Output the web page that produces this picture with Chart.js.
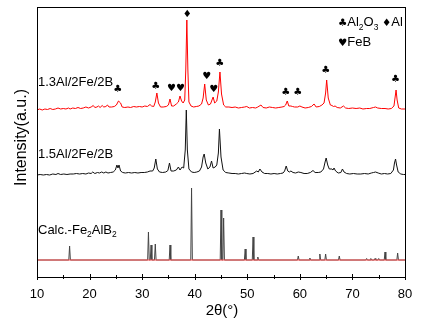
<!DOCTYPE html>
<html>
<head>
<meta charset="utf-8">
<script src="https://cdn.jsdelivr.net/npm/chart.js@4.4.0/dist/chart.umd.min.js"></script>
<style>
  html, body { margin: 0; padding: 0; background: #fff; }
  #wrap { width: 421px; height: 324px; }
</style>
</head>
<body>
<div id="wrap"><canvas id="xrd" width="421" height="324"></canvas></div>
<script>
// --- Data (2theta in degrees, intensity in a.u. above each pattern's baseline) ---
const xTicks = [10, 20, 30, 40, 50, 60, 70, 80];
const xMinorTicks = [15, 25, 35, 45, 55, 65, 75];

// 1.3Al/2Fe/2B (red)
const s13Theta = [10.0, 10.5, 11, 11.5, 12, 12.5, 13, 13.5, 14, 14.5, 15, 15.5, 16, 16.3, 16.8, 17.3, 17.8, 18.3, 18.8, 19.3,
  19.8, 20.3, 20.7, 21.0, 21.4, 21.7, 22.0, 22.4, 22.7, 23.1, 23.4, 23.7, 24.2, 24.7, 25.1, 25.5, 25.9, 26.2, 26.7, 27.3,
  27.8, 28.4, 28.9, 29.5, 30.0, 30.5, 31.0, 31.5, 31.8, 32.2, 32.5, 32.8, 33.1, 33.5, 34.0, 34.6, 35.0, 35.3, 35.6, 36.0,
  36.5, 36.9, 37.2, 37.5, 37.8, 38.1, 38.3, 38.5, 38.7, 38.9, 39.3, 39.8, 40.3, 40.8, 41.3, 41.6, 41.9, 42.2, 42.6, 43.0,
  43.5, 43.8, 44.2, 44.5, 44.8, 45.1, 45.5, 45.9, 46.5, 47.1, 47.7, 48.3, 48.9, 49.5, 49.9, 50.4, 51.0, 51.6, 52.0, 52.6,
  53.0, 53.6, 54.2, 54.8, 55.4, 56.0, 56.6, 57.0, 57.3, 57.6, 57.9, 58.3, 58.6, 59.0, 59.6, 60.0, 60.4, 61.0, 61.6, 62.2,
  62.7, 63.1, 63.7, 64.2, 64.6, 64.9, 65.1, 65.4, 65.8, 66.1, 66.4, 66.7, 67.1, 67.7, 68.3, 68.7, 69.3, 70.0, 70.7, 71.4,
  72.0, 72.7, 73.3, 74.0, 74.4, 74.8, 75.5, 76.2, 76.8, 77.4, 77.9, 78.1, 78.3, 78.5, 78.8, 79.3, 80.0];
const s13Int = [0, 1, 0, 1, 0.5, 1.5, 0.5, 1, 2, 1, 1.5, 1, 2, 1, 2, 1.5, 2.5, 1.5, 2, 3,
  2, 3, 4.5, 2.5, 3, 4, 2.5, 4.5, 3, 3.5, 5, 3, 3, 3.5, 5, 9, 7, 3, 2.5, 3,
  2.5, 3.5, 3, 3.5, 3, 4, 3.5, 5.5, 4, 3.5, 8, 17, 7, 3, 3, 3.5, 5, 11, 4, 4,
  6, 8, 14, 9, 7, 10, 40, 90, 40, 8, 4, 3, 3.5, 4, 6, 12, 26, 10, 5, 6,
  13, 7, 9, 18, 38, 16, 5, 3, 3, 2.5, 3, 2, 2.5, 3, 3.5, 2, 2.5, 2, 3, 5,
  2.5, 2, 3, 2.5, 2, 2.5, 3, 3.5, 5, 9, 4, 4, 3.5, 3, 3, 4, 3, 2, 2.5, 3.5,
  6, 3, 3.5, 5, 7, 17, 30, 12, 5, 4.5, 3.5, 4, 2.5, 2, 4, 2, 1.5, 2, 1.5, 2,
  1, 1.5, 1.5, 2.5, 3, 2, 1.5, 1.5, 1, 1.5, 4, 12, 20, 10, 2, 1, 1];

// 1.5Al/2Fe/2B (black)
const s15Theta = [10.0, 10.6, 11.2, 11.8, 12.4, 13.0, 13.6, 14.0, 14.5, 15.1, 15.7, 16.3, 16.9, 17.5, 18.1, 18.7, 19.3, 19.8, 20.3, 20.6,
  21.0, 21.5, 21.9, 22.3, 22.7, 23.1, 23.5, 24.0, 24.5, 24.9, 25.2, 25.4, 25.6, 25.9, 26.3, 26.8, 27.4, 28.0, 28.6, 29.2,
  29.8, 30.4, 31.0, 31.5, 32.0, 32.3, 32.6, 32.9, 33.3, 33.9, 34.5, 34.9, 35.2, 35.5, 36.0, 36.5, 36.9, 37.2, 37.6, 37.9,
  38.2, 38.4, 38.6, 38.9, 39.4, 39.9, 40.4, 40.9, 41.3, 41.6, 41.8, 42.1, 42.5, 42.9, 43.2, 43.5, 43.9, 44.2, 44.5, 44.7,
  45.0, 45.4, 45.9, 46.5, 47.1, 47.7, 48.3, 48.9, 49.5, 49.9, 50.5, 51.1, 51.8, 52.1, 52.4, 52.8, 53.3, 53.9, 54.5, 55.1,
  55.7, 56.3, 56.8, 57.1, 57.4, 57.7, 58.0, 58.3, 58.7, 59.2, 59.7, 60.2, 60.8, 61.4, 62.0, 62.5, 62.9, 63.5, 64.0, 64.5,
  64.8, 65.0, 65.3, 65.6, 66.1, 66.3, 66.5, 66.8, 67.3, 67.8, 68.1, 68.4, 68.9, 69.5, 70.2, 70.9, 71.6, 72.3, 73.0, 73.6,
  74.0, 74.4, 74.9, 75.5, 76.1, 76.7, 77.3, 77.8, 78.0, 78.2, 78.4, 78.7, 79.2, 79.7, 80.0];
const s15Int = [0, 0.5, 0, 0.5, 0, 1, 0.5, 1.5, 0.5, 1, 0.5, 1, 1, 1.5, 1, 1.5, 1, 2, 1.5, 3,
  1.5, 2.5, 2, 3, 2, 3, 2, 2.5, 3, 5, 10, 7, 10, 4, 2.5, 2, 2.5, 2, 2.5, 2,
  2.5, 2.5, 3, 4, 4, 7, 16, 6, 3, 2.5, 3, 4.5, 12, 4, 4, 5, 8, 5, 8, 7,
  25, 65, 25, 6, 3, 2.5, 3, 4, 8, 18, 21, 12, 6, 8, 14, 7, 8, 10, 22, 46,
  18, 5, 2.5, 2, 1.5, 1.5, 1, 1.5, 2, 1.5, 1, 1.5, 4, 3, 6, 3, 1.5, 1.5, 1, 1.5,
  1, 1.5, 2, 4, 9, 4, 3, 4, 2.5, 2, 3, 2.5, 1.5, 1.5, 2.5, 4.5, 2.5, 2.5, 3, 6,
  13, 17, 10, 6, 6, 5, 7, 4, 2, 2.5, 6, 3, 1.5, 1, 1.5, 1, 1, 1.5, 1, 2,
  2.5, 3, 2, 1, 1.5, 1, 1.5, 5, 12, 16, 10, 3, 1, 0.5, 0.5];

// Calculated Fe2AlB2 reflections
const calcTheta = [16.2, 31.2, 31.7, 32.5, 35.3, 39.4, 45.0, 45.5, 49.6, 51.1, 52.0, 59.7, 61.9, 63.8, 64.9, 67.5, 72.7, 73.5, 74.3, 75.0, 76.2, 78.6];
const calcInt = [14, 28, 15, 16, 15, 72, 50, 42, 11, 23, 3, 4, 2, 6, 6, 4, 1.5, 1.5, 1.5, 1.5, 8, 7];

// vertical offsets of the stacked patterns
const offsets = { s13: 167, s15: 102, calc: 17 };

// phase markers above peaks
const markTheta = [25.35, 32.6, 35.6, 37.3, 38.6, 42.3, 43.6, 44.75, 57.3, 59.6, 64.9, 78.2];
const markY = [188, 191, 189, 189, 263, 201, 188, 214, 185, 185, 207, 198];
const markSym = ['♣', '♣', '♥', '♥', '♦', '♥', '♥', '♣', '♣', '♣', '♣', '♣'];

// --- Build series ---
function toPoints(xs, ys, off) {
    return xs.map((x, i) => ({ x: x, y: ys[i] + off }));
}

const calcPts = [{ x: 10, y: offsets.calc }];
calcTheta.forEach((t, i) => {
    calcPts.push({ x: t - 0.15, y: offsets.calc });
    calcPts.push({ x: t, y: offsets.calc + calcInt[i] });
    calcPts.push({ x: t + 0.15, y: offsets.calc });
});
calcPts.push({ x: 80, y: offsets.calc });

// --- Text helper with subscripts ---
function drawRich(ctx, parts, x, y, size) {
    parts.forEach(p => {
        const txt = p[0], kind = p[1];
        if (kind === 'sub') {
            ctx.font = (size * 0.65) + 'px "Liberation Sans", Arial, sans-serif';
            ctx.fillText(txt, x, y + size * 0.28);
        } else if (kind === 'sym') {
            ctx.font = (size * 0.8) + 'px "DejaVu Sans", sans-serif';
            ctx.fillText(txt, x, y);
        } else {
            ctx.font = size + 'px "Liberation Sans", Arial, sans-serif';
            ctx.fillText(txt, x, y);
        }
        x += ctx.measureText(txt).width;
    });
}

// --- Frame, ticks, labels ---
const decorPlugin = {
    id: 'decor',
    afterDatasetsDraw(chart) {
        const ctx = chart.ctx;
        const a = chart.chartArea;
        const xs = chart.scales.x, ys = chart.scales.y;
        ctx.save();
        ctx.strokeStyle = '#000';
        ctx.lineWidth = 1;
        ctx.strokeRect(a.left + 0.5, a.top + 0.5, a.right - a.left, a.bottom - a.top);

        ctx.beginPath();
        xTicks.forEach(t => {
            const px = Math.round(xs.getPixelForValue(t)) + 0.5;
            ctx.moveTo(px, a.bottom - 3); ctx.lineTo(px, a.bottom + 3);
        });
        xMinorTicks.forEach(t => {
            const px = Math.round(xs.getPixelForValue(t)) + 0.5;
            ctx.moveTo(px, a.bottom - 2); ctx.lineTo(px, a.bottom + 2);
        });
        ctx.stroke();

        ctx.fillStyle = '#000';
        ctx.textBaseline = 'alphabetic';
        ctx.textAlign = 'center';
        ctx.font = '13px "Liberation Sans", Arial, sans-serif';
        xTicks.forEach(t => ctx.fillText(String(t), xs.getPixelForValue(t), 297.5));

        ctx.font = '15px "Liberation Sans", Arial, sans-serif';
        ctx.fillText('2θ(°)', (a.left + a.right) / 2 + 1, 315);

        ctx.save();
        ctx.translate(26, 137.5);
        ctx.rotate(-Math.PI / 2);
        ctx.font = '16px "Liberation Sans", Arial, sans-serif';
        ctx.fillText('Intensity(a.u.)', 0, 0);
        ctx.restore();

        // phase markers
        ctx.font = '10px "DejaVu Sans", sans-serif';
        ctx.textBaseline = 'middle';
        markTheta.forEach((t, i) => {
            ctx.fillText(markSym[i], xs.getPixelForValue(t), ys.getPixelForValue(markY[i]));
        });

        // sample labels and legend
        ctx.textAlign = 'left';
        ctx.textBaseline = 'alphabetic';
        drawRich(ctx, [['1.3Al/2Fe/2B']], 38, 86, 13);
        drawRich(ctx, [['1.5Al/2Fe/2B']], 38, 157.5, 13);
        drawRich(ctx, [['Calc.-Fe'], ['2', 'sub'], ['AlB'], ['2', 'sub']], 38, 233.5, 13);
        drawRich(ctx, [['♣', 'sym'], ['Al'], ['2', 'sub'], ['O'], ['3', 'sub'], [' '], ['♦', 'sym'], ['Al']], 338, 26.3, 13);
        drawRich(ctx, [['♥', 'sym'], ['FeB']], 338, 46.3, 13);
        ctx.restore();
    }
};

new Chart(document.getElementById('xrd'), {
    type: 'line',
    data: {
        datasets: [
            { label: '1.3Al/2Fe/2B', data: toPoints(s13Theta, s13Int, offsets.s13), borderColor: '#ff0000' },
            { label: '1.5Al/2Fe/2B', data: toPoints(s15Theta, s15Int, offsets.s15), borderColor: '#111111' },
            { label: 'Calc baseline', data: [{ x: 10, y: offsets.calc }, { x: 80, y: offsets.calc }], borderColor: '#ff5050' },
            { label: 'Calc.-Fe2AlB2', data: calcPts, borderColor: '#444444' }
        ]
    },
    options: {
        responsive: false,
        animation: false,
        parsing: true,
        elements: {
            line: { borderWidth: 1, tension: 0 },
            point: { radius: 0 }
        },
        layout: { padding: { left: 37, right: 16, top: 7, bottom: 47 } },
        scales: {
            x: { type: 'linear', min: 10, max: 80, display: false },
            y: { type: 'linear', min: 0, max: 270, display: false }
        },
        plugins: {
            legend: { display: false },
            tooltip: { enabled: false }
        }
    },
    plugins: [decorPlugin]
});
</script>
</body>
</html>
